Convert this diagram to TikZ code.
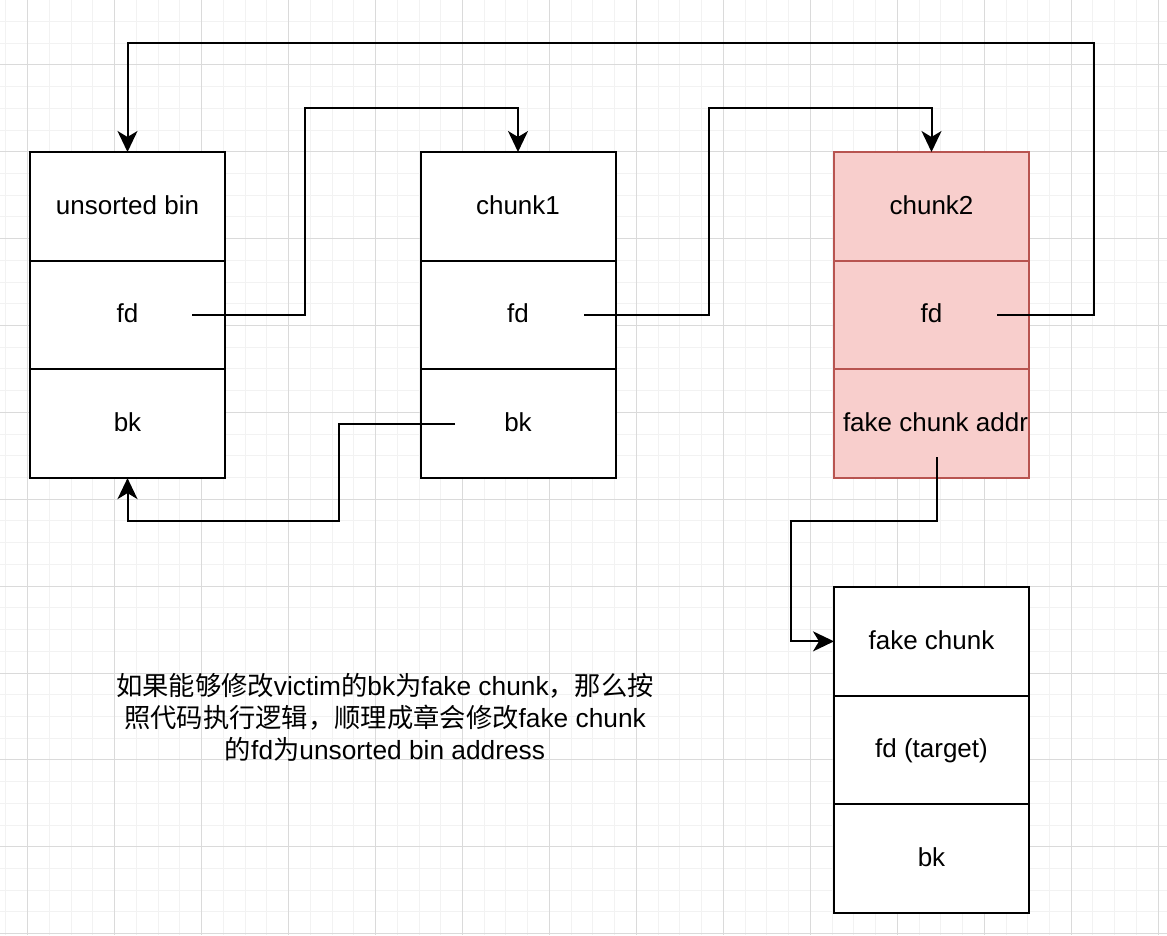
\documentclass[tikz,border=0pt]{standalone}
\usepackage{fontspec}
\setmainfont{Liberation Sans}
\newfontfamily\cjk{Noto Sans CJK SC}
\usepackage{xcolor}
\usepackage{tikz}
\usetikzlibrary{arrows.meta, positioning, calc}

\definecolor{gridminor}{HTML}{F2F2F2}
\definecolor{gridmajor}{HTML}{DADADA}
\definecolor{chunkred}{HTML}{F8CECC}
\definecolor{chunkredline}{HTML}{B85450}
\newcommand{\cellfont}{\fontsize{26}{30}\selectfont}

\begin{document}
\begin{tikzpicture}[
    x=1pt, y=-1pt,
    cell/.style={rectangle, draw, line width=2pt, fill=white, minimum width=195pt, minimum height=108.7pt, inner sep=0pt, outer sep=0pt, text height=20.8pt, text depth=5.2pt, font=\cellfont},
    redcell/.style={cell, draw=chunkredline, fill=chunkred},
    arrow/.style={-{Stealth[length=21pt, width=20pt, inset=6pt]}, line width=2pt, black},
    note/.style={align=center, inner sep=0pt, font=\fontsize{26.3}{32}\selectfont}
]

    % ============================================================
    % CANVAS & GRID
    % ============================================================
    \useasboundingbox (0,0) rectangle (1167,935);
    \fill[white] (0,0) rectangle (1167,935);
    \foreach \x in {5.97,27.71,...,1167} \draw[gridminor, line width=1pt] (\x,0) -- (\x,935);
    \foreach \y in {-0.3,21.42,...,935} \draw[gridminor, line width=1pt] (0,\y) -- (1167,\y);
    \foreach \x in {27.71,114.67,...,1167} \draw[gridmajor, line width=1pt] (\x,0) -- (\x,935);
    \foreach \y in {64.86,151.74,...,935} \draw[gridmajor, line width=1pt] (0,\y) -- (1167,\y);

    % ============================================================
    % BINS & CHUNKS
    % ============================================================
    \node[cell] (ubhead) at (127.5,206.35) {unsorted bin};
    \node[cell, below=0pt of ubhead] (ubfd) {fd};
    \node[cell, below=0pt of ubfd] (ubbk) {bk};

    \node[cell] (c1head) at (518,206.35) {chunk1};
    \node[cell, below=0pt of c1head] (c1fd) {fd};
    \node[cell, below=0pt of c1fd] (c1bk) {bk};

    \node[redcell] (c2head) at (931.5,206.35) {chunk2};
    \node[redcell, below=0pt of c2head] (c2fd) {fd};
    \node[redcell, below=0pt of c2fd] (c2addr) {\hspace*{8pt}fake chunk addr};

    \node[cell] (fkhead) at (931.5,641.35) {fake chunk};
    \node[cell, below=0pt of fkhead] (fkfd) {fd (target)};
    \node[cell, below=0pt of fkfd] (fkbk) {bk};

    % Pointer start points
    \coordinate (ubfdout) at ($(ubfd.center)+(64.5,0)$);
    \coordinate (c1fdout) at ($(c1fd.center)+(66,0)$);
    \coordinate (c2fdout) at ($(c2fd.center)+(65.5,0)$);
    \coordinate (c1bkout) at ($(c1bk.center)+(-63,0)$);
    \coordinate (c2addrout) at ($(c2addr.center)+(5.5,33.5)$);

    % ============================================================
    % POINTERS
    % ============================================================
    \draw[arrow] (ubfdout) -| (305,108) -| (c1head.north);
    \draw[arrow] (c1fdout) -| (709,108) -| (c2head.north);
    \draw[arrow] (c2fdout) -| (1094,43) -| (ubhead.north);
    \draw[arrow] (c1bkout) -| (339,521) -| (ubbk.south);
    \draw[arrow] (c2addrout) |- (791,521) |- (fkhead.west);

    % Explanation
    \node[note] (explain) at (385,717) {{\cjk 如果能够修改}victim{\cjk 的}bk{\cjk 为}fake chunk{\cjk ，那么按}\\{\cjk 照代码执行逻辑，顺理成章会修改}fake chunk\\{\cjk 的}fd{\cjk 为}unsorted bin address};

\end{tikzpicture}
\end{document}
